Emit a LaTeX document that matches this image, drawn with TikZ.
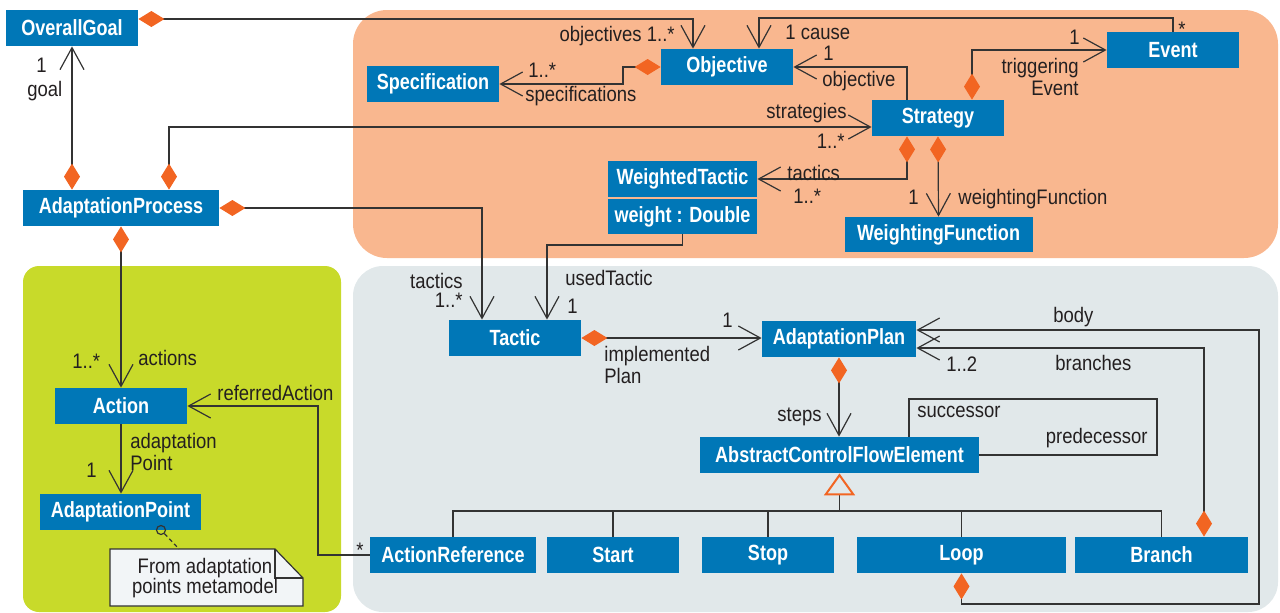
\documentclass[tikz,border=0pt]{standalone}
\usepackage{fontspec}
\newfontfamily\boxfont{Liberation Sans}[FakeStretch=0.82]
\newfontfamily\lblfont{Liberation Sans}[FakeStretch=0.88]
\usetikzlibrary{arrows.meta}
\definecolor{ublue}{HTML}{0077B7}
\definecolor{dorange}{HTML}{F26522}
\definecolor{orangebg}{HTML}{F9B78F}
\definecolor{greenbg}{HTML}{C8DA2A}
\definecolor{greybg}{HTML}{E1E8EA}
\definecolor{linec}{HTML}{333333}
\definecolor{labelc}{HTML}{231F20}
\definecolor{notefill}{HTML}{F2F5F7}
\begin{document}
\begin{tikzpicture}[x=0.5pt,y=-0.5pt,
 cls/.style={fill=ublue, text=white, font=\boxfont\bfseries\fontsize{11}{13}\selectfont, inner sep=0pt, minimum height=18pt, minimum width=66pt},
 lbl/.style={text=labelc, font=\lblfont\fontsize{10.5}{12}\selectfont, inner sep=0pt},
 conn/.style={draw=linec, line width=0.6pt},
 assoc/.style={conn, -{Straight Barb[length=11pt,width=12pt]}},
 comp/.style={conn, {Diamond[length=13pt,width=8pt,color=dorange,fill=dorange]}-{Straight Barb[length=11pt,width=12pt]}},
 gen/.style={conn, -{Triangle[open,length=11pt,width=15.5pt,color=dorange,line width=1pt]}},
]
\useasboundingbox (0,0) rectangle (1280,612);
% background regions
\fill[orangebg, rounded corners=17pt] (353,10) rectangle (1278,258);
\fill[greenbg, rounded corners=8pt] (23,266) rectangle (341,612);
\fill[greybg, rounded corners=15pt] (353,266) rectangle (1278,612);

% classes
\node[cls] (og) at (72,28) {OverallGoal};
\node[cls, minimum width=98pt] (ap) at (121,208) {AdaptationProcess};
\node[cls] (spec) at (433,84) {Specification};
\node[cls] (obj) at (727,67) {Objective};
\node[cls, minimum width=74.5pt] (wt) at (682.5,179) {WeightedTactic};
\node[cls, minimum width=74.5pt, minimum height=17.5pt] (wb) at (682.5,216.5) {weight : Double};
\node[cls] (ev) at (1173,50) {Event};
\node[cls] (st) at (938,118) {Strategy};
\node[cls, minimum width=94pt, minimum height=17.5pt] (wf) at (938.5,234.5) {WeightingFunction};
\node[cls] (act) at (121,406) {Action};
\node[cls, minimum width=80.5pt] (apt) at (120.5,512) {AdaptationPoint};
\node[cls] (tac) at (515,338) {Tactic};
\node[cls, minimum width=77pt] (plan) at (839,339) {AdaptationPlan};
\node[cls, minimum width=139.5pt] (acfe) at (839.5,455) {AbstractControlFlowElement};
\node[cls, minimum width=83pt] (aref) at (453,555) {ActionReference};
\node[cls] (start) at (613,555) {Start};
\node[cls] (stop) at (768,555) {Stop};
\node[cls, minimum width=104.5pt] (loop) at (961.5,555) {Loop};
\node[cls, minimum width=86.5pt] (br) at (1161.5,555) {Branch};

% note
\filldraw[fill=notefill, draw=linec, line width=0.6pt] (110,549) -- (275,549) -- (303,578) -- (303,606) -- (110,606) -- cycle;
\draw[linec, line width=0.6pt] (275,549) -- (275,578) -- (303,578);
\node[lbl, align=center, font=\lblfont\fontsize{10.5}{10}\selectfont] (note) at (205,578) {From adaptation\\points metamodel};
\node[circle, draw=linec, line width=0.6pt, inner sep=0pt, minimum size=4.5pt] (pin) at (161,530) {};

% bend coordinates
\coordinate (c1) at (693,19);
\coordinate (c2) at (759,18);
\coordinate (c3) at (907,67);
\coordinate (c4) at (623,84);
\coordinate (c5) at (169,127);
\coordinate (c9) at (972,50);
\coordinate (c10) at (482,208);
\coordinate (c11) at (547,245);
\coordinate (c14) at (318,406);
\coordinate (c15) at (179,549);
\coordinate (c18a) at (909,399);
\coordinate (c18b) at (1157,399);
\coordinate (gj) at (839.5,511);
\coordinate (c20a) at (1259,604);
\coordinate (c20b) at (1259,330);
\coordinate (c21) at (1204,348);

% connectors
\draw[comp] (og.east |- c1) -- (c1) -- (obj.north -| c1);
\draw[assoc] (ev.north) |- (c2) -- (obj.north -| c2);
\draw[assoc] (st.north -| c3) -- (c3) -- (obj.east |- c3);
\draw[comp] (obj.west) -| (c4) -- (spec.east);
\draw[comp] (ap.north -| c5) -- (c5) -- (st.west |- c5);
\draw[comp] (ap.north -| og.south) -- (og.south);
\draw[comp] (st.south -| c3) |- (wt.east);
\draw[comp] (st.south) -- (wf.north);
\draw[comp] (st.north -| c9) |- (ev.west);
\draw[comp] (ap.east) -| (tac.north -| c10);
\draw[assoc] (wb.south) |- (c11) -- (tac.north -| c11);
\draw[comp] (ap.south) -- (act.north);
\draw[assoc] (act.south) -- (apt.north -| act.south);
\draw[assoc] (aref.west) -| (c14) -- (act.east);
\draw[conn, dash pattern=on 2pt off 1.5pt] (pin) -- (c15);
\draw[comp] (tac.east) -- (plan.west |- tac.east);
\draw[comp] (plan.south) -- (acfe.north -| plan.south);
\draw[conn] (acfe.north -| c18a) -- (c18a) -- (c18b) |- (acfe.east);
\draw[gen] (gj) -- (acfe.south -| gj);
\draw[conn] (aref.north) |- (gj) -| (br.north);
\draw[conn] (start.north) -- (start.north |- gj);
\draw[conn] (stop.north) -- (stop.north |- gj);
\draw[conn] (loop.north) -- (loop.north |- gj);
\draw[comp] (loop.south) |- (c20a) -- (c20b) -- (plan.east |- c20b);
\draw[comp] (br.north -| c21) -- (c21) -- (plan.east |- c21);

% labels
\node[lbl, anchor=base east] (l1) at (675,41) {objectives 1..*};
\node[lbl, anchor=base west] (l2) at (785,39) {1 cause};
\node[lbl, anchor=base west] (l3) at (823,60) {1};
\node[lbl, anchor=base west] (l4) at (822,86) {objective};
\node[lbl, anchor=base west] (l5) at (528,77) {1..*};
\node[lbl, anchor=base west] (l6) at (525,101) {specifications};
\node[lbl, anchor=base east] (l7) at (847,118) {strategies};
\node[lbl, anchor=base east] (l8) at (845,148) {1..*};
\node[lbl, anchor=base west] (l9) at (787,180) {tactics};
\node[lbl, anchor=base west] (l10) at (793,203) {1..*};
\node[lbl, anchor=base east] (l11) at (919,204) {1};
\node[lbl, anchor=base west] (l12) at (958,204) {weightingFunction};
\node[lbl, anchor=base east] (l13) at (1080,44) {1};
\node[lbl, anchor=base east] (l14) at (1079,73) {triggering};
\node[lbl, anchor=base east] (l15) at (1079,95) {Event};
\node[lbl, anchor=base west] (l16) at (1178,36) {*};
\node[lbl, anchor=base west] (l17) at (36,72) {1};
\node[lbl, anchor=base west] (l18) at (27,96) {goal};
\node[lbl, anchor=base east] (l19) at (463,288) {tactics};
\node[lbl, anchor=base east] (l20) at (463,307) {1..*};
\node[lbl, anchor=base west] (l21) at (565,285) {usedTactic};
\node[lbl, anchor=base west] (l22) at (567,313) {1};
\node[lbl, anchor=base east] (l23) at (733,327) {1};
\node[lbl, anchor=base west] (l24) at (604,361) {implemented};
\node[lbl, anchor=base west] (l25) at (604,383) {Plan};
\node[lbl, anchor=base east] (l26) at (822,421) {steps};
\node[lbl, anchor=base west] (l27) at (917,417) {successor};
\node[lbl, anchor=base east] (l28) at (1148,443) {predecessor};
\node[lbl, anchor=base west] (l29) at (1053,322) {body};
\node[lbl, anchor=base west] (l30) at (946,371) {1..2};
\node[lbl, anchor=base west] (l31) at (1055,370) {branches};
\node[lbl, anchor=base west] (l32) at (72,368) {1..*};
\node[lbl, anchor=base west] (l33) at (138,365) {actions};
\node[lbl, anchor=base west] (l34) at (217,400) {referredAction};
\node[lbl, anchor=base west] (l35) at (130,448) {adaptation};
\node[lbl, anchor=base west] (l36) at (130,470) {Point};
\node[lbl, anchor=base east] (l37) at (97,477) {1};
\node[lbl, anchor=base west] (l38) at (356,557) {*};
\end{tikzpicture}
\end{document}
